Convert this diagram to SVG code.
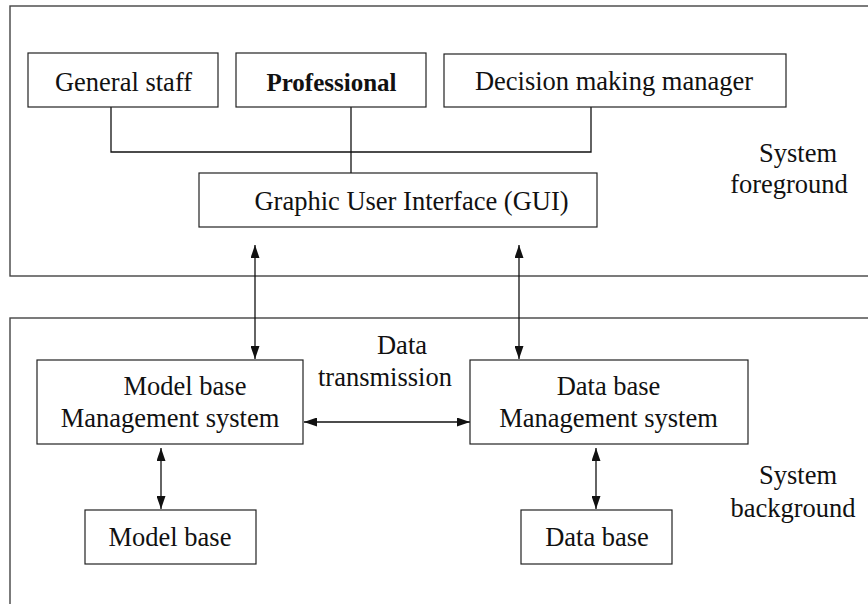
<svg xmlns="http://www.w3.org/2000/svg" width="868" height="604" viewBox="0 0 868 604">
<style>
text{font-family:"Liberation Serif","Times New Roman",serif;font-size:26.5px;fill:#111;text-anchor:middle}
.b{font-weight:bold;font-size:25px}
.box{fill:#fff;stroke:#222;stroke-width:1.2}
.frame{fill:none;stroke:#444;stroke-width:1.4}
.ln{fill:none;stroke:#111;stroke-width:1.3}
.ar{fill:none;stroke:#111;stroke-width:1.3;marker-start:url(#ah);marker-end:url(#ah)}
</style>
<defs>
<marker id="ah" viewBox="0 0 13 9" refX="13" refY="4.5" markerWidth="13" markerHeight="9" markerUnits="userSpaceOnUse" orient="auto-start-reverse">
<path d="M0,0 L13,4.5 L0,9 z" fill="#111"/>
</marker>
</defs>
<g id="frames">
<rect class="frame" x="10" y="6" width="880" height="270"/>
<rect class="frame" x="10" y="318" width="880" height="320"/>
<text x="798" y="162">System</text>
<text x="789" y="193">foreground</text>
<text x="798" y="484">System</text>
<text x="793" y="517">background</text>
</g>
<g id="connectors">
<path class="ln" d="M111,107 V152 H591 V107"/>
<path class="ln" d="M351,107 V173"/>
<path class="ar" d="M255,245 V359"/>
<path class="ar" d="M519,245 V359"/>
<path class="ar" d="M304,422 H470"/>
<path class="ar" d="M161,448 V509"/>
<path class="ar" d="M596,448 V509"/>
<text x="402" y="354">Data</text>
<text x="385" y="386">transmission</text>
</g>
<g id="general-staff">
<rect class="box" x="28" y="53" width="190" height="54"/>
<text x="123.5" y="91">General staff</text>
</g>
<g id="professional">
<rect class="box" x="236" y="53" width="190" height="54"/>
<text class="b" x="331.5" y="91">Professional</text>
</g>
<g id="decision-manager">
<rect class="box" x="444" y="54" width="342" height="53"/>
<text x="614" y="90">Decision making manager</text>
</g>
<g id="gui">
<rect class="box" x="199" y="173" width="398" height="54"/>
<text x="411.5" y="210">Graphic User Interface (GUI)</text>
</g>
<g id="mbms">
<rect class="box" x="37" y="360" width="266" height="84"/>
<text x="185" y="395">Model base</text>
<text x="170" y="427">Management system</text>
</g>
<g id="dbms">
<rect class="box" x="470" y="360" width="278" height="84"/>
<text x="608.5" y="395">Data base</text>
<text x="608.5" y="427">Management system</text>
</g>
<g id="model-base">
<rect class="box" x="85" y="510" width="171" height="54"/>
<text x="170" y="546">Model base</text>
</g>
<g id="data-base">
<rect class="box" x="521" y="510" width="151" height="54"/>
<text x="597" y="546">Data base</text>
</g>
</svg>
